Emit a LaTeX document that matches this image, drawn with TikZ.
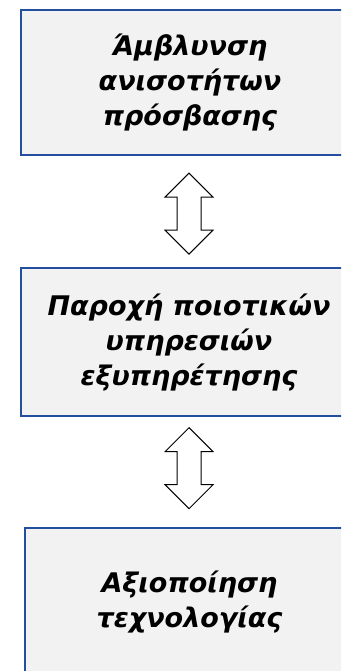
\documentclass[tikz,border=0pt]{standalone}
\usepackage{fontspec}
\setmainfont{DejaVu Sans}
\usetikzlibrary{calc}
\definecolor{boxfill}{RGB}{242,242,242}
\definecolor{boxline}{RGB}{36,78,158}
\begin{document}
\begin{tikzpicture}[x=1pt,y=-1pt,
  stagebox/.style={fill=boxfill,inner sep=0pt,anchor=north west},
  stageedge/.style={draw=boxline,line width=2pt,line join=miter},
  stagetext/.style={inner sep=0pt,align=center,
    font=\fontsize{27}{35}\selectfont\bfseries\itshape},
  dblarrow/.pic={
    \draw[line width=1pt,fill=white,line join=miter]
      (0,-40.5) -- (24,-16.5) -- (12,-16.5) -- (12,16.5) -- (24,16.5)
      -- (0,40.5) -- (-24,16.5) -- (-12,16.5) -- (-12,-16.5) -- (-24,-16.5) -- cycle;
  }]
\useasboundingbox (0,0) rectangle (341,671);
\clip (0,0) rectangle (341,671);
\node[stagebox,minimum width=330pt,minimum height=145pt] (b1) at (21,10) {};
\node[stagebox,minimum width=330pt,minimum height=148pt] (b2) at (21,268) {};
\node[stagebox,minimum width=330pt,minimum height=148pt] (b3) at (24.5,528) {};
\draw[stageedge] (b1.north east) -- (b1.north west) -- (b1.south west) -- (b1.south east);
\draw[stageedge] (b2.north east) -- (b2.north west) -- (b2.south west) -- (b2.south east);
\draw[stageedge] (b3.north east) -- (b3.north west) -- (b3.south west) -- (b3.south east);
\node[stagetext] (t1) at ($(b1.west)+(169,0)$) {Άμβλυνση\\ανισοτήτων\\πρόσβασης};
\node[stagetext] (t2) at ($(b2.west)+(168,0)$) {Παροχή ποιοτικών\\υπηρεσιών\\εξυπηρέτησης};
\node[stagetext] (t3) at ($(b3.west)+(165,0)$) {Αξιοποίηση\\τεχνολογίας};
\coordinate (m1) at ($(b1.south west)!0.5!(b2.north west)+(168,2)$);
\coordinate (m2) at ($(b2.south west)!0.5!(b3.north west)+(166.25,-4)$);
\pic at (m1) {dblarrow};
\pic at (m2) {dblarrow};
\end{tikzpicture}
\end{document}
